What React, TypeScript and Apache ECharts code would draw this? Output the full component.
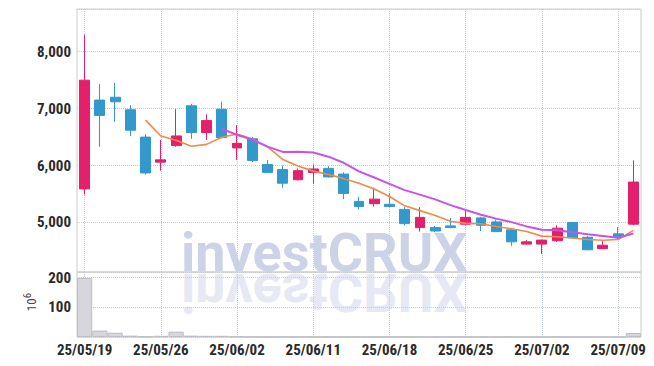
import React, { useEffect, useRef } from "react";
import * as echarts from "echarts";

const dates = [
  "25/05/19", "25/05/20", "25/05/21", "25/05/22", "25/05/23",
  "25/05/26", "25/05/27", "25/05/28", "25/05/29", "25/05/30",
  "25/06/02", "25/06/04", "25/06/05", "25/06/09", "25/06/10",
  "25/06/11", "25/06/12", "25/06/13", "25/06/16", "25/06/17",
  "25/06/18", "25/06/19", "25/06/20", "25/06/23", "25/06/24",
  "25/06/25", "25/06/26", "25/06/27", "25/06/30", "25/07/01",
  "25/07/02", "25/07/03", "25/07/04", "25/07/07", "25/07/08",
  "25/07/09", "25/07/10",
];

const opens = [
  5590, 7150, 7200, 6980, 6500, 6060, 6350, 7050, 6580, 6990,
  6310, 6470, 6020, 5930, 5750, 5880, 5950, 5850, 5370, 5330,
  5320, 5230, 4910, 4910, 4940, 4970, 5080, 5010, 4870, 4620,
  4620, 4680, 5000, 4740, 4540, 4800, 4970,
];
const closes = [
  7500, 6880, 7120, 6620, 5870, 6100, 6520, 6580, 6790, 6490,
  6390, 6090, 5880, 5690, 5910, 5940, 5800, 5510, 5280, 5410,
  5280, 4980, 5090, 4850, 4910, 5090, 4950, 4840, 4660, 4660,
  4690, 4900, 4730, 4520, 4600, 4750, 5710,
];
const lows = [
  5490, 6330, 6770, 6520, 5840, 5910, 6330, 6470, 6450, 6480,
  6100, 6060, 5870, 5610, 5740, 5680, 5790, 5410, 5230, 5280,
  5270, 4950, 4840, 4830, 4900, 4950, 4850, 4830, 4590, 4610,
  4450, 4660, 4720, 4510, 4540, 4690, 4950,
];
const highs = [
  8300, 7430, 7450, 7060, 6550, 6450, 6990, 7080, 6900, 7120,
  6710, 6500, 6100, 6000, 5950, 6020, 5990, 5880, 5450, 5610,
  5510, 5270, 5270, 4940, 5080, 5200, 5100, 5050, 4880, 4690,
  4700, 4950, 5010, 4760, 4670, 4920, 6090,
];

const ma5 = [
  "-", "-", "-", "-", 6798, 6518, 6446, 6338, 6372, 6496,
  6554, 6468, 6328, 6108, 5992, 5902, 5844, 5770, 5688, 5588,
  5456, 5292, 5208, 5122, 5022, 4984, 4978, 4928, 4890, 4840,
  4760, 4750, 4728, 4700, 4688, 4700, 4862,
];
const ma10 = [
  "-", "-", "-", "-", "-", "-", "-", "-", "-", 6647,
  6536, 6457, 6333, 6240, 6244, 6228, 6156, 6049, 5898, 5790,
  5679, 5568, 5489, 5405, 5305, 5220, 5135, 5068, 5006, 4931,
  4872, 4864, 4828, 4795, 4764, 4730, 4806,
];

const volumes = [
  199, 21.5, 14.5, 4.5, 1.5, 4, 18, 4.5, 4, 4,
  2, 0.8, 0.6, 0.7, 0.5, 0.6, 0.5, 0.5, 0.4, 0.5,
  0.4, 0.5, 0.5, 0.4, 0.4, 0.5, 0.4, 0.4, 0.4, 0.3,
  0.4, 0.5, 0.4, 0.3, 0.3, 0.5, 13.5,
];

const RED = "#e41f6c";
const BLUE = "#3399cc";
const LABEL_FONT = '"Liberation Sans Narrow", "Roboto Condensed", Roboto, sans-serif';
const SPLIT = { type: "dotted" as const, color: "#c6cbdd", width: 1 };

export default function App() {
  const ref = useRef<HTMLDivElement>(null);
  useEffect(() => {
    const chart = echarts.init(ref.current!, null, { renderer: "svg" });
    const ohlc = dates.map((_, i) => [opens[i], closes[i], lows[i], highs[i]]);
    const xCommon = {
      type: "category" as const,
      data: dates,
      boundaryGap: true,
      axisLine: { show: false },
      axisTick: { show: false },
      splitLine: { show: true, interval: 4, alignWithLabel: true, lineStyle: SPLIT },
    };
    const labelStyle = {
      fontFamily: LABEL_FONT,
      fontSize: 15,
      fontWeight: "bold" as const,
      color: "#2a2a2a",
    };
    const wm = (fill: string, flip: boolean) => ({
      type: "group",
      x: 181,
      y: 272,
      scaleY: flip ? -1 : 1,
      silent: true,
      z: -10,
      children: [
        {
          type: "text",
          x: 0,
          y: -20,
          z: -10,
          style: {
            text: "investCRUX",
            fontFamily: "Roboto",
            fontWeight: "bold",
            fontSize: 54,
            fill,
            align: "left",
            verticalAlign: "middle",
            textAlign: "left",
            textVerticalAlign: "middle",
          },
        },
      ],
    });
    chart.setOption({
      animation: false,
      backgroundColor: "#ffffff",
      graphic: [
        wm("#cdd3e7", false),
        wm("#e6e9f3", true),
        {
          type: "text",
          x: 31,
          y: 302,
          rotation: Math.PI / 2,
          style: {
            text: "{a|10}{b|6}",
            fill: "#444",
            align: "center",
            verticalAlign: "middle",
            textAlign: "center",
            textVerticalAlign: "middle",
            rich: {
              a: { fontSize: 13, fontFamily: LABEL_FONT, fill: "#444" },
              b: { fontSize: 11, fontFamily: LABEL_FONT, fill: "#444", padding: [0, 0, 8, 0] },
            },
          },
        },
      ],
      grid: [
        { left: 77, right: 13, top: 9, height: 263, show: true, borderColor: "#cccccc", borderWidth: 1 },
        { left: 77, right: 13, top: 272, height: 65, show: true, borderColor: "#cccccc", borderWidth: 1 },
      ],
      xAxis: [
        { ...xCommon, gridIndex: 0, axisLabel: { show: false } },
        {
          ...xCommon,
          gridIndex: 1,
          axisLabel: { show: true, interval: 4, margin: 5, ...labelStyle },
        },
      ],
      yAxis: [
        {
          type: "value",
          gridIndex: 0,
          min: 4130,
          max: 8750,
          splitNumber: 4,
          axisLine: { show: false },
          axisTick: { show: false },
          splitLine: { show: true, lineStyle: SPLIT },
          axisLabel: {
            showMinLabel: false,
            showMaxLabel: false,
            margin: 6,
            formatter: (v: number) => v.toLocaleString("en-US"),
            ...labelStyle,
          },
        },
        {
          type: "value",
          gridIndex: 1,
          min: 0,
          max: 219,
          interval: 100,
          axisLine: { show: false },
          axisTick: { show: false },
          splitLine: { show: true, lineStyle: SPLIT },
          axisLabel: {
            showMinLabel: false,
            showMaxLabel: false,
            margin: 6,
            ...labelStyle,
          },
        },
      ],
      series: [
        {
          type: "candlestick",
          xAxisIndex: 0,
          yAxisIndex: 0,
          data: ohlc,
          barWidth: "68%",
          z: 3,
          itemStyle: {
            color: RED,
            color0: BLUE,
            borderColor: RED,
            borderColor0: BLUE,
            borderWidth: 1,
          },
        },
        {
          type: "line",
          xAxisIndex: 0,
          yAxisIndex: 0,
          data: ma5,
          showSymbol: false,
          symbol: "none",
          z: 4,
          lineStyle: { color: "#ef8a4a", width: 1.6 },
        },
        {
          type: "line",
          xAxisIndex: 0,
          yAxisIndex: 0,
          data: ma10,
          showSymbol: false,
          symbol: "none",
          z: 4,
          lineStyle: { color: "#c952ea", width: 2 },
        },
        {
          type: "bar",
          xAxisIndex: 1,
          yAxisIndex: 1,
          data: volumes,
          barWidth: "100%",
          itemStyle: { color: "#d6d6dc", borderColor: "#bdbdc6", borderWidth: 1 },
        },
      ],
    });
    return () => chart.dispose();
  }, []);
  return (
    <div
      ref={ref}
      style={{ position: "fixed", left: 0, top: 0, width: 654, height: 366 }}
    />
  );
}
